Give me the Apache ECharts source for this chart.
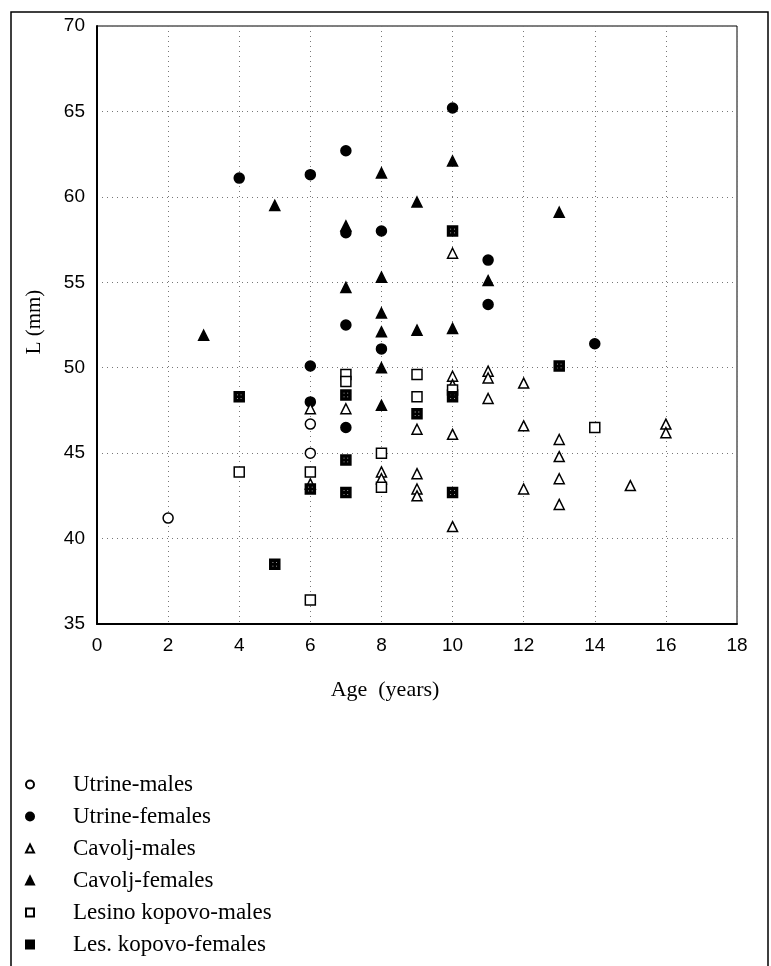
<!DOCTYPE html>
<html><head><meta charset="utf-8">
<script src="https://cdn.jsdelivr.net/npm/echarts@6/dist/echarts.min.js"></script>
<style>html,body{margin:0;padding:0;background:#fff}#c{width:771px;height:966px}</style>
</head><body><div id="c"></div>
<script>
// ---- data ----
const seriesNames = ['Utrine-males','Utrine-females','Cavolj-males','Cavolj-females','Lesino kopovo-males','Les. kopovo-females'];
const utrineMales = [[2,41.2],[6,46.7],[6,45.0]];
const utrineFemales = [[4,61.1],[6,61.3],[6,50.1],[6,48.0],[7,62.7],[7,57.9],[7,52.5],[7,46.5],[8,58.0],[8,51.1],[10,65.2],[11,56.3],[11,53.7],[14,51.4]];
const cavoljMales = [[6,47.6],[6,43.2],[7,47.6],[8,43.9],[8,43.5],[9,46.4],[9,43.8],[9,42.9],[9,42.5],[10,56.7],[10,49.5],[10,49.0],[10,46.1],[10,40.7],[11,49.8],[11,49.4],[11,48.2],[12,49.1],[12,46.6],[12,42.9],[13,45.8],[13,44.8],[13,43.5],[13,42.0],[15,43.1],[16,46.7],[16,46.2]];
const cavoljFemales = [[3,51.9],[5,59.5],[7,58.3],[7,54.7],[8,61.4],[8,55.3],[8,53.2],[8,52.1],[8,50.0],[8,47.8],[9,59.7],[9,52.2],[10,62.1],[10,52.3],[11,55.1],[13,59.1]];
const lesMales = [[4,43.9],[6,43.9],[6,36.4],[7,49.6],[7,49.2],[8,45.0],[8,43.0],[9,49.6],[9,48.3],[10,48.7],[14,46.5]];
const lesFemales = [[4,48.3],[5,38.5],[6,42.9],[7,48.4],[7,44.6],[7,42.7],[9,47.3],[10,58.0],[10,48.3],[10,42.7],[13,50.1]];
const xTitle = 'Age  (years)';
const yTitle = 'L (mm)';

const hatch = 'path://M0,0H10V10H0Z M2,2V4.3H4.3V2Z M5.7,2V4.3H8V2Z M2,5.7V8H4.3V5.7Z M5.7,5.7V8H8V5.7Z';
const serif = 'Liberation Serif';
const sans = 'Liberation Sans';

function sc(name, data, symbol, fill, size) {
  return {
    type: 'scatter', name: name, data: data, symbol: symbol, symbolSize: size,
    itemStyle: { color: fill, borderColor: '#000', borderWidth: 1.5, opacity: 1 },
    emphasis: { disabled: true }
  };
}

const chart = echarts.init(document.getElementById('c'), null, { renderer: 'canvas' });
chart.setOption({
  animation: false,
  backgroundColor: '#fff',
  grid: { left: 97, top: 26, right: 34, bottom: 342, show: true, borderColor: '#000', borderWidth: 1 },
  xAxis: {
    type: 'value', min: 0, max: 18, interval: 2,
    axisLine: { show: true, onZero: false, lineStyle: { color: '#000', width: 2 } },
    axisTick: { show: false },
    axisLabel: { color: '#000', fontFamily: sans, fontSize: 19, margin: 12 },
    splitLine: { show: true, lineStyle: { color: '#777', type: [1, 4], width: 1 } }
  },
  yAxis: {
    type: 'value', min: 35, max: 70, interval: 5,
    axisLine: { show: true, onZero: false, lineStyle: { color: '#000', width: 2 } },
    axisTick: { show: false },
    axisLabel: { color: '#000', fontFamily: sans, fontSize: 19, margin: 12 },
    splitLine: { show: true, lineStyle: { color: '#777', type: [1, 4], width: 1 } }
  },
  legend: {
    orient: 'vertical', left: 20, top: 768, itemWidth: 8, itemHeight: 8, itemGap: 9,
    textStyle: { fontFamily: serif, fontSize: 23, lineHeight: 23, color: '#000', padding: [0, 0, 0, 34] },
    data: seriesNames.map(n => ({ name: n }))
  },
  series: [
    sc(seriesNames[0], utrineMales, 'circle', '#fff', 10),
    sc(seriesNames[1], utrineFemales, 'circle', '#000', 10),
    sc(seriesNames[2], cavoljMales, 'triangle', '#fff', 10),
    sc(seriesNames[3], cavoljFemales, 'triangle', '#000', 10),
    sc(seriesNames[4], lesMales, 'rect', '#fff', 10),
    sc(seriesNames[5], lesFemales, hatch, '#000', 10)
  ],
  graphic: [
    { type: 'rect', shape: { x: 11, y: 12, width: 757, height: 970 }, style: { fill: 'none', stroke: '#000', lineWidth: 1.5 }, silent: true },
    { type: 'text', x: 385, y: 690, style: { text: xTitle, font: '22px "Liberation Serif"', fill: '#000', align: 'center', verticalAlign: 'middle' } },
    { type: 'text', x: 34, y: 322, rotation: Math.PI / 2, style: { text: yTitle, font: '21px "Liberation Serif"', fill: '#000', align: 'center', verticalAlign: 'middle' } }
  ]
});
</script></body></html>
